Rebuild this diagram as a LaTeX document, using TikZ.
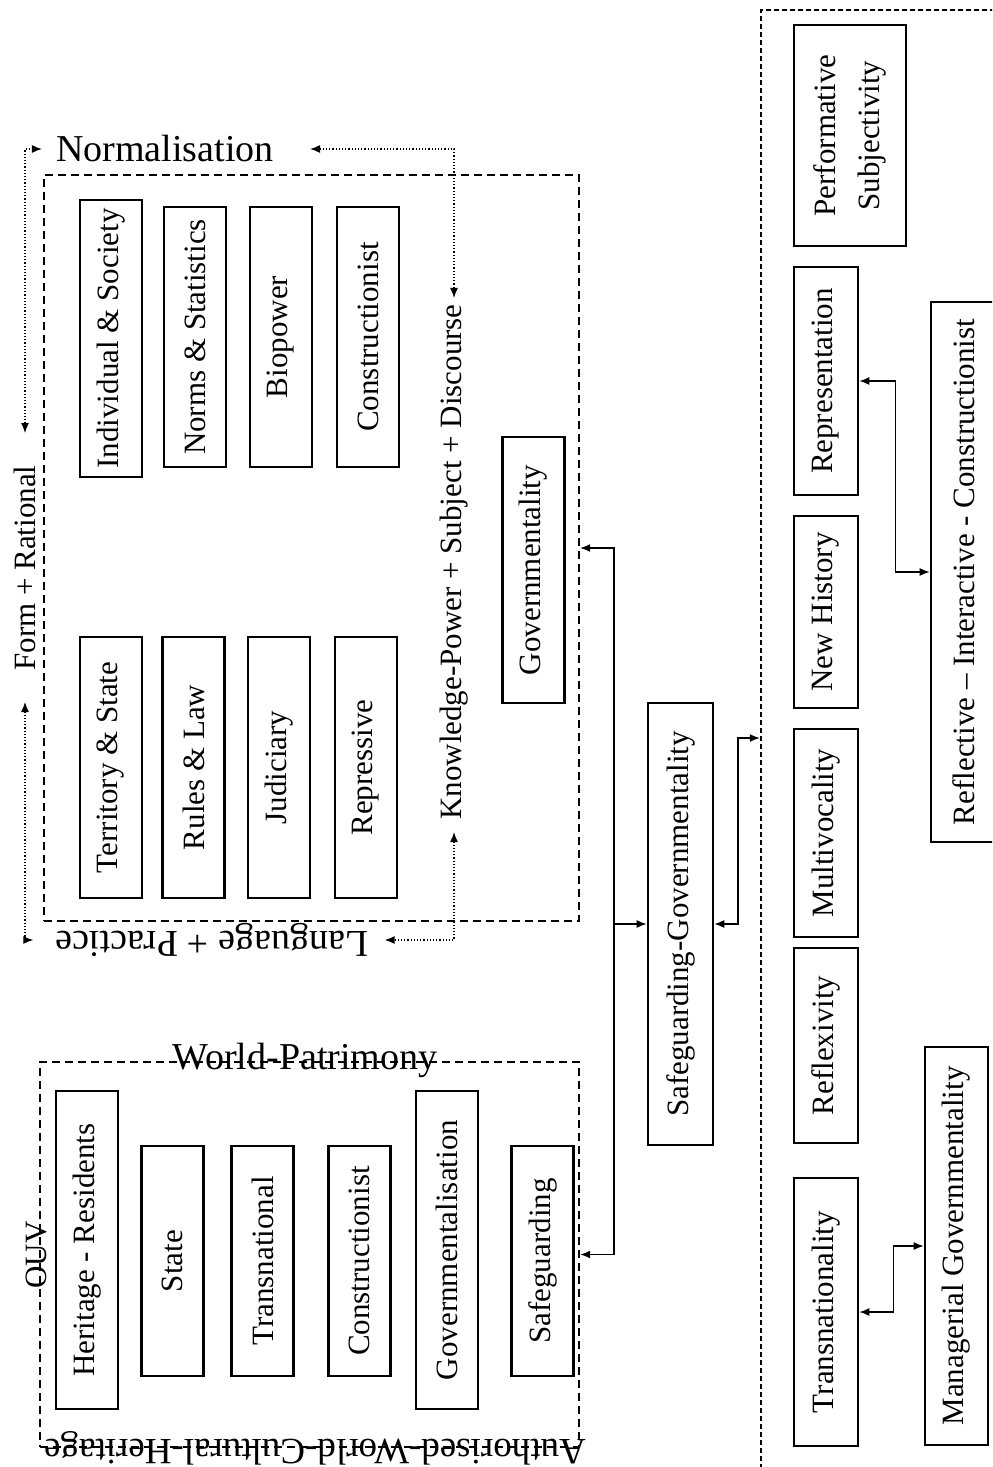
\documentclass[tikz,border=0pt]{standalone}
\usepackage{fontspec}
\setmainfont{Liberation Serif}
\usetikzlibrary{arrows.meta}

\begin{document}
\begin{tikzpicture}[x=0.5pt,y=-0.5pt,
          >={Latex[length=5pt,width=4pt]},
          gbox/.style={draw,line width=1.3pt,rotate=90,minimum height=31pt,inner sep=2pt,align=center,font=\fontsize{15.5}{22}\selectfont},
          dbox/.style={draw,line width=1.2pt,dash pattern=on 4pt off 2.5pt,inner sep=0pt},
          lbl/.style={inner sep=3pt,font=\fontsize{15.5}{18}\selectfont},
          biglbl/.style={inner sep=3pt,font=\fontsize{19}{22}\selectfont},
          arr/.style={line width=0.7pt},
          darr/.style={densely dotted,line width=0.6pt,<->}]
          \useasboundingbox (0,0) rectangle (992,1467);
          \clip (0,0) rectangle (992,1467);
          % dashed frames
          \node[dbox,minimum width=267.5pt,minimum height=373pt] (kbox) at (311.5,548) {};
          \node[dbox,minimum width=269.5pt,minimum height=192.5pt] (wbox) at (309.5,1254.5) {};
          \node[dbox,dash pattern=on 2.5pt off 1.5pt,minimum width=124.5pt,minimum height=740pt] (rbox) at (885.5,750) {};
          % knowledge-power frame
          \node[gbox,minimum width=138.5pt] (indiv) at (111,338.5) {Individual \& Society};
          \node[gbox,minimum width=130pt] (norms) at (195,337) {Norms \& Statistics};
          \node[gbox,minimum width=130pt] (biop) at (281,337) {Biopower};
          \node[gbox,minimum width=130pt] (cnst) at (368,337) {Constructionist};
          \node[gbox,minimum width=130.5pt] (terr) at (111,767.5) {Territory \& State};
          \node[gbox,minimum width=130.5pt] (rules) at (193.5,767.5) {Rules \& Law};
          \node[gbox,minimum width=130.5pt] (judi) at (279,767.5) {Judiciary};
          \node[gbox,minimum width=130.5pt] (repr) at (366,767.5) {Repressive};
          \node[gbox,minimum width=133pt] (gov) at (533.5,570) {Governmentality};
          \node[biglbl] (nrm) at (165,149) {Normalisation};
          \node[lbl,rotate=90] (frm) at (25,568) {Form + Rational};
          \node[lbl,rotate=90] (kpsd) at (454,562) {Knowledge-Power + Subject + Discourse};
          \node[biglbl,rotate=180] (lang) at (212,940) {Language + Practice};
          \draw[darr,shorten <=13pt,shorten >=4pt] (frm.east) |- (nrm.west);
          \draw[darr,shorten <=15pt] (nrm.east) -| (kpsd.east);
          \draw[darr,shorten <=12.5pt,shorten >=8pt] (frm.west) |- (lang.east);
          \draw[darr,shorten <=3pt,shorten >=5pt] (kpsd.west) |- (lang.west);
          % world patrimony frame
          \node[gbox,minimum width=159pt] (her) at (87,1250) {Heritage - Residents};
          \node[gbox,minimum width=115pt] (stt) at (172.5,1261) {State};
          \node[gbox,minimum width=115pt] (trnl) at (262.5,1261) {Transnational};
          \node[gbox,minimum width=115pt] (cns) at (359.5,1261) {Constructionist};
          \node[gbox,minimum width=159pt] (govn) at (447,1250) {Governmentalisation};
          \node[gbox,minimum width=115pt] (safe) at (542.5,1261) {Safeguarding};
          \node[biglbl] (wpat) at (305,1060) {World-Patrimony};
          \node[lbl,rotate=90] (ouv) at (36,1255) {OUV};
          \node[biglbl,rotate=180,font=\fontsize{18.5}{20}\selectfont,inner sep=0pt] (awch) at (315,1448) {Authorised-World-Cultural-Heritage};
          % centre
          \node[gbox,minimum width=221pt,minimum height=32.5pt] (sg) at (680.5,924) {Safeguarding-Governmentality};
          \coordinate (jn) at (614,924);
          \coordinate (rk) at (738,738);
          \draw[arr,->] (jn) -- (sg.north);
          \draw[arr,->] (jn) |- (kbox.east);
          \draw[arr,->] (jn) |- (wbox.east);
          \draw[arr,<->] (sg.south) -| (rk) -- (rk -| rbox.west);
          % right frame
          \node[gbox,minimum width=110.5pt,minimum height=56pt] (perf) at (850,135.5) {Performative\\Subjectivity};
          \node[gbox,minimum width=114pt,minimum height=32pt] (repn) at (826,381) {Representation};
          \node[gbox,minimum width=96pt,minimum height=32pt] (newh) at (826,612) {New History};
          \node[gbox,minimum width=104pt,minimum height=32pt] (mult) at (826,833) {Multivocality};
          \node[gbox,minimum width=97.5pt,minimum height=32pt] (rflx) at (826,1045.5) {Reflexivity};
          \node[gbox,minimum width=134pt,minimum height=32pt] (trns) at (826,1312) {Transnationality};
          \node[gbox,minimum width=270pt,minimum height=32.5pt] (ric) at (963.5,572) {Reflective – Interactive - Constructionist};
          \node[gbox,minimum width=199pt,minimum height=31.5pt] (mgov) at (956.5,1246) {Managerial Governmentality};
          \draw[arr,<->] (repn.south) -- ++(36,0) |- (ric.north);
          \draw[arr,<->] (trns.south) -- ++(34,0) |- (mgov.north);
        \end{tikzpicture}
\end{document}
